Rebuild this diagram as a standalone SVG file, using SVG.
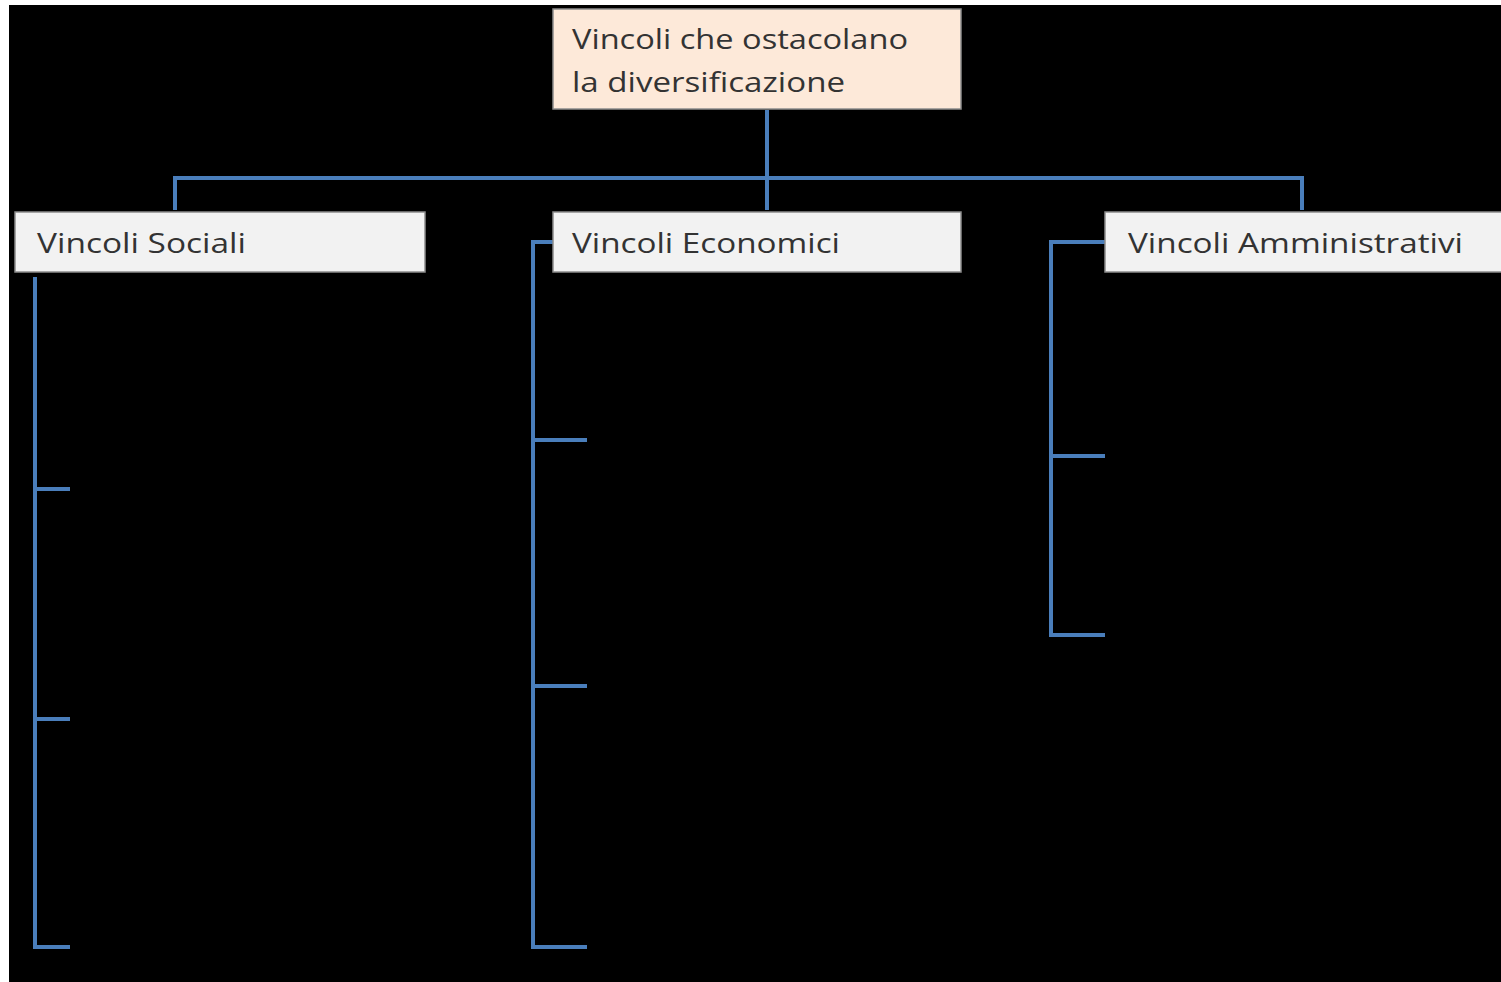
<svg xmlns="http://www.w3.org/2000/svg" width="1501" height="982" viewBox="0 0 1501 982">
<style>
.box{stroke:#8c8c8c;stroke-width:1.5}
.lbl{font-family:"Open Sans","Liberation Sans",sans-serif;font-size:28px;fill:#333}
.conn{fill:none;stroke:#4a7ebb;stroke-width:4;stroke-linejoin:miter;stroke-linecap:butt}
</style>
<rect x="0" y="0" width="1501" height="982" fill="#ffffff"/>
<rect x="9" y="5" width="1492" height="977" fill="#000000"/>
<g id="connectors">
<path class="conn" d="M767,110 V210 M175,210 V178 H1302 V210"/>
<path class="conn" d="M35,277 V947 H70 M35,489 H70 M35,719 H70"/>
<path class="conn" d="M553,242 H533 V947 H587 M533,440 H587 M533,686 H587"/>
<path class="conn" d="M1105,242 H1051 V635 H1105 M1051,456 H1105"/>
</g>
<g id="root">
<rect class="box" x="553" y="9" width="408" height="100" fill="#fde9d9"/>
<text class="lbl" x="572" y="49" textLength="336" lengthAdjust="spacingAndGlyphs">Vincoli che ostacolano</text>
<text class="lbl" x="572" y="92" textLength="273" lengthAdjust="spacingAndGlyphs">la diversificazione</text>
</g>
<g id="sociali">
<rect class="box" x="15" y="212" width="410" height="60" fill="#f2f2f2"/>
<text class="lbl" x="37" y="253" textLength="209" lengthAdjust="spacingAndGlyphs">Vincoli Sociali</text>
</g>
<g id="economici">
<rect class="box" x="553" y="212" width="408" height="60" fill="#f2f2f2"/>
<text class="lbl" x="572" y="253" textLength="268" lengthAdjust="spacingAndGlyphs">Vincoli Economici</text>
</g>
<g id="amministrativi">
<rect class="box" x="1105" y="212" width="400" height="60" fill="#f2f2f2"/>
<text class="lbl" x="1128" y="253" textLength="335" lengthAdjust="spacingAndGlyphs">Vincoli Amministrativi</text>
</g>
</svg>
